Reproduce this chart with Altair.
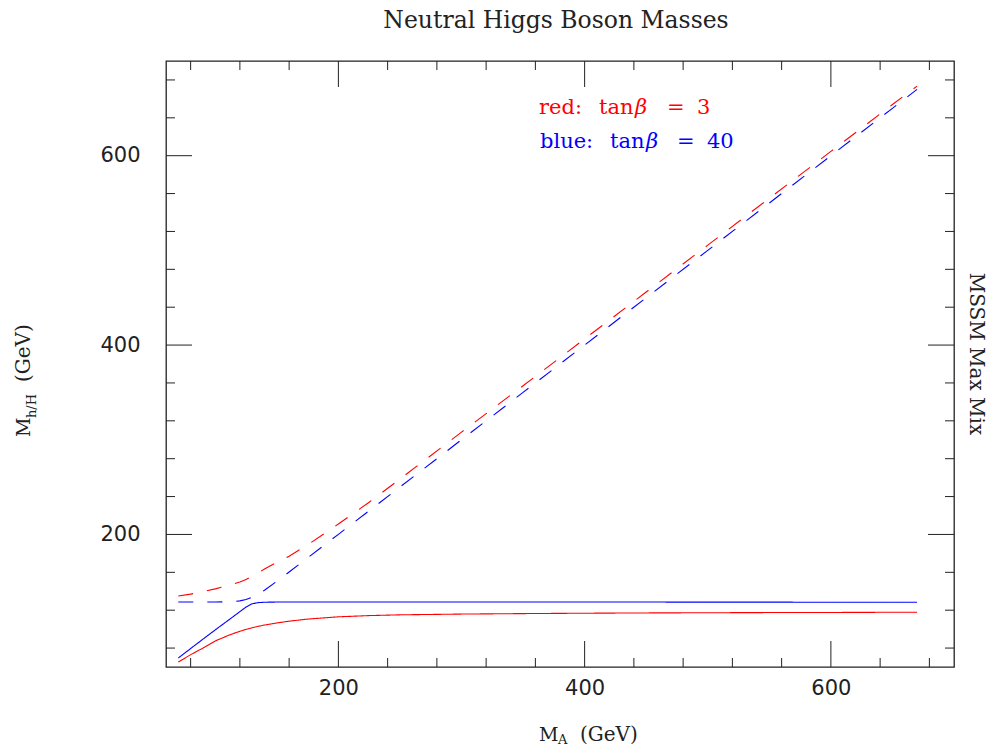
import altair as alt
import pandas as pd

# ---- data ----
ma = [70, 80, 90, 100, 110, 115, 120, 125, 130, 135, 140, 150, 160, 175, 200,
      225, 250, 300, 350, 400, 450, 500, 550, 600, 650, 670]
red_h = [65.3, 73.0, 80.0, 87.5, 93.0, 95.5, 97.7, 99.7, 101.5, 103.0, 104.3, 106.5,
         108.4, 110.6, 113.0, 114.3, 115.1, 115.9, 116.4, 116.8, 117.1, 117.3, 117.5,
         117.6, 117.8, 117.8]
red_H = [135.0, 137.0, 139.5, 142.5, 146.0, 147.8, 149.8, 152.5, 156.0, 159.5, 163.5,
         170.5, 177.0, 189.0, 211.0, 234.0, 258.5, 308.0, 357.0, 406.5, 456.0, 505.5,
         555.0, 604.5, 654.0, 673.5]
blue_h = [69.5, 79.5, 89.4, 99.2, 108.8, 113.6, 118.5, 123.3, 126.8, 128.0, 128.4,
          128.6, 128.7, 128.7, 128.7, 128.7, 128.7, 128.7, 128.6, 128.6, 128.6, 128.5,
          128.5, 128.4, 128.4, 128.4]
blue_H = [128.6, 128.6, 128.6, 128.7, 128.8, 129.1, 129.8, 131.3, 133.8, 137.0, 141.0,
          150.5, 160.3, 175.2, 200.1, 225.1, 250.0, 300.0, 350.0, 400.0, 450.0, 500.0,
          550.0, 600.0, 650.0, 670.0]

major_ticks = [200, 400, 600]
minor_ticks = [80, 120, 160, 240, 280, 320, 360, 440, 480, 520, 560, 640, 680]

series = {
    ("tan3", "h", "#ff0000"): red_h,
    ("tan3", "H", "#ff0000"): red_H,
    ("tan40", "h", "#0000ff"): blue_h,
    ("tan40", "H", "#0000ff"): blue_H,
}
rows = []
for (tb, kind, col), vals in series.items():
    for m, v in zip(ma, vals):
        rows.append({"MA": m, "mass": v, "series": tb + kind, "kind": kind, "col": col})
df = pd.DataFrame(rows)

W, H = 788, 606
SERIF = "DejaVu Serif"
SANS = "DejaVu Sans"

xscale = alt.Scale(domain=[60, 700], nice=False, zero=False)
yscale = alt.Scale(domain=[60, 700], nice=False, zero=False)
xaxis = alt.Axis(values=major_ticks, ticks=False, tickSize=0, domain=False,
                 grid=False, title=None, labelFont=SANS, labelFontSize=21,
                 labelColor="#222", labelPadding=10)
yaxis = alt.Axis(values=major_ticks, ticks=False, tickSize=0, domain=False,
                 grid=False, title=None, labelFont=SANS, labelFontSize=21,
                 labelColor="#222", labelPadding=26)

lines = alt.Chart(df).mark_line(strokeWidth=1.1, clip=True).encode(
    x=alt.X("MA:Q", scale=xscale, axis=xaxis),
    y=alt.Y("mass:Q", scale=yscale, axis=yaxis),
    color=alt.Color("col:N", scale=None, legend=None),
    strokeDash=alt.StrokeDash("kind:N",
                              scale=alt.Scale(domain=["h", "H"], range=[[1, 0], [15, 14]]),
                              legend=None),
    detail="series:N",
)

tmaj = pd.DataFrame({"v": major_ticks})
tmin = pd.DataFrame({"v": minor_ticks})


def xticks(d, y0, y1):
    return alt.Chart(d).mark_rule(color="#222", strokeWidth=1).encode(
        x=alt.X("v:Q", scale=xscale, axis=xaxis), y=alt.value(y0), y2=alt.value(y1))


def yticks(d, x0, x1):
    return alt.Chart(d).mark_rule(color="#222", strokeWidth=1).encode(
        y=alt.Y("v:Q", scale=yscale, axis=yaxis), x=alt.value(x0), x2=alt.value(x1))


ticks = [
    xticks(tmaj, H, H - 26), xticks(tmin, H, H - 9),
    xticks(tmaj, 0, 26), xticks(tmin, 0, 9),
    yticks(tmaj, 0, 26), yticks(tmin, 0, 9),
    yticks(tmaj, W, W - 26), yticks(tmin, W, W - 9),
]


def label(text, x, y, size, color="#222", font=SERIF, angle=0, align="left", style="normal"):
    return alt.Chart(pd.DataFrame({"t": [text]})).mark_text(
        font=font, fontSize=size, color=color, angle=angle, align=align,
        fontStyle=style, baseline="alphabetic").encode(
        text="t:N", x=alt.value(x), y=alt.value(y))


RED, BLUE = "#ff0000", "#0000ff"
texts = [
    label("Neutral Higgs Boson Masses", 390, -33, 23.5, align="center"),
    # annotation: "red: tanβ = 3"
    label("red:", 373, 53, 21, color=RED),
    label("tan", 433, 53, 21, color=RED),
    label("\u03b2", 469, 53, 21, color=RED, style="italic"),
    label("=", 501, 53, 21, color=RED),
    label("3", 531, 53, 21, color=RED),
    # annotation: "blue: tanβ = 40"
    label("blue:", 374, 87, 21, color=BLUE),
    label("tan", 444, 87, 21, color=BLUE),
    label("\u03b2", 480, 87, 21, color=BLUE, style="italic"),
    label("=", 511, 87, 21, color=BLUE),
    label("40", 541, 87, 21, color=BLUE),
    # x-axis title  M_A (GeV)
    label("M", 373, 680, 19),
    label("A", 392, 683, 13),
    label("(GeV)", 414, 680, 20),
    # y-axis title  M_h/H (GeV)
    label("M", -136, 376, 19, angle=270),
    label("h/H", -130, 357, 13, angle=270),
    label("(GeV)", -136, 321, 20, angle=270),
    # right title
    label("MSSM Max Mix", 804, 293, 20, angle=90, align="center"),
]

chart = alt.layer(lines, *ticks, *texts).properties(
    width=W, height=H,
    autosize=alt.AutoSizeParams(type="none"),
    padding={"left": 166, "top": 61, "right": 34, "bottom": 84},
).configure_view(stroke="#222", strokeWidth=1.3)

chart.save("out.html", embed_options={"renderer": "svg", "actions": False})
